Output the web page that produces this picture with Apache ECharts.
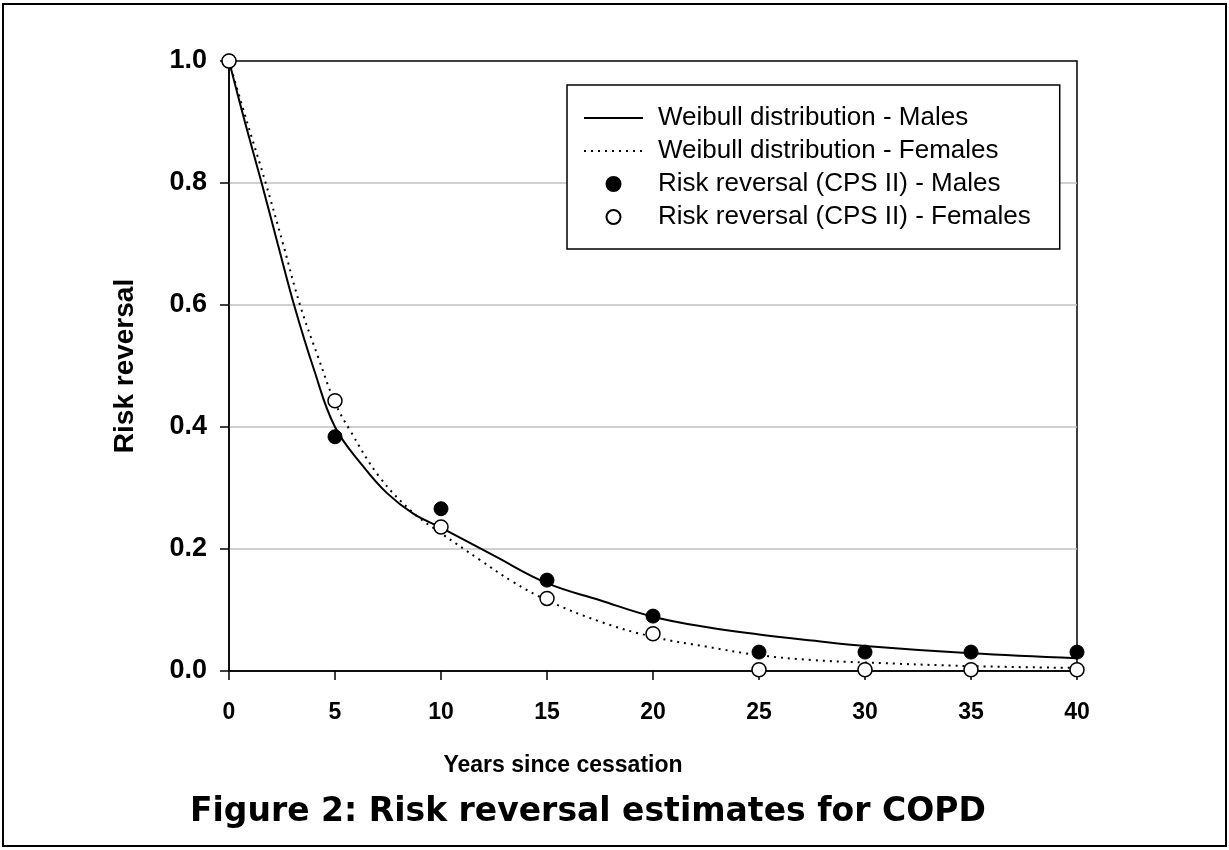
<!DOCTYPE html>
<html>
<head>
<meta charset="utf-8">
<script src="https://cdn.jsdelivr.net/npm/echarts@6/dist/echarts.min.js"></script>
<style>
  html, body { margin: 0; padding: 0; background: #fff; }
  #chart { width: 1229px; height: 850px; }
</style>
</head>
<body>
<div id="chart"></div>
<script>
// ---- Data ----
const seriesNames = [
  'Weibull distribution - Males',
  'Weibull distribution - Females',
  'Risk reversal (CPS II) - Males',
  'Risk reversal (CPS II) - Females'
];
// Fitted Weibull curves: [years, risk reversal]
const weibullMales = [
  [0, 1.0], [0.75, 0.90], [1.54, 0.80], [2.3, 0.70], [3.07, 0.60], [4.0, 0.495],
  [5, 0.40], [6.34, 0.335], [7.44, 0.292], [8.69, 0.258], [10, 0.235],
  [12.5, 0.189], [15, 0.144], [17.5, 0.116], [20, 0.089],
  [22.5, 0.072], [25, 0.060], [27.5, 0.050], [30, 0.041], [35, 0.029], [40, 0.021]
];
const weibullFemales = [
  [0, 1.0], [0.85, 0.90], [1.73, 0.80], [2.55, 0.70], [3.35, 0.60], [4.2, 0.515],
  [5, 0.44], [5.7, 0.395], [7.1, 0.318], [8.7, 0.259], [10, 0.226],
  [11.84, 0.182], [13.4, 0.146], [15, 0.116], [17.5, 0.081], [20, 0.056],
  [22.5, 0.040], [25, 0.026], [27.5, 0.018], [30, 0.014], [35, 0.008], [40, 0.005]
];
// Observed risk reversal (CPS II)
const years = [0, 5, 10, 15, 20, 25, 30, 35, 40];
const cpsMales   = [1.0, 0.384, 0.266, 0.149, 0.090, 0.031, 0.031, 0.031, 0.031];
const cpsFemales = [1.0, 0.443, 0.236, 0.119, 0.061, 0.002, 0.002, 0.002, 0.002];

const xTitle = 'Years since cessation';
const yTitle = 'Risk reversal';
const figTitle = 'Figure 2: Risk reversal estimates for COPD';

const pairs = (xs, ys) => xs.map((x, i) => [x, ys[i]]);

const chart = echarts.init(document.getElementById('chart'), null, { renderer: 'canvas' });

const hiddenSymbol = { color: 'transparent', borderColor: 'transparent', borderWidth: 0, opacity: 0 };

const option = {
  backgroundColor: '#fff',
  animation: false,
  title: {
    text: figTitle,
    left: 190,
    top: 796,
    padding: 0,
    textStyle: { fontFamily: 'DejaVu Sans', fontWeight: 'bold', fontSize: 33, color: '#000' }
  },
  graphic: [
    {
      type: 'rect', silent: true, z: -1,
      shape: { x: 3, y: 4, width: 1223, height: 842 },
      style: { fill: null, stroke: '#000', lineWidth: 2 }
    }
  ],
  grid: {
    left: 229, right: 152, top: 61, bottom: 179,
    show: true, borderColor: '#000', borderWidth: 1.5, backgroundColor: 'transparent'
  },
  legend: {
    orient: 'vertical',
    left: 567, top: 85,
    padding: [20, 29, 19, 16],
    itemGap: 7,
    itemWidth: 59, itemHeight: 14,
    borderColor: '#000', borderWidth: 1.5, backgroundColor: '#fff',
    data: [
      { name: seriesNames[0], itemStyle: hiddenSymbol },
      { name: seriesNames[1], itemStyle: hiddenSymbol },
      { name: seriesNames[2] },
      { name: seriesNames[3] }
    ],
    textStyle: { fontFamily: 'Liberation Sans', fontSize: 26, color: '#000', padding: [0, 0, 0, 10] }
  },
  xAxis: {
    type: 'value', min: 0, max: 40, interval: 5,
    name: xTitle, nameLocation: 'middle', nameGap: 83,
    nameTextStyle: {
      fontFamily: 'Liberation Sans', fontWeight: 'bold', fontSize: 23, color: '#000',
      padding: [0, 180, 0, 0]
    },
    axisLine: { show: true, lineStyle: { color: '#000', width: 1.5 } },
    axisTick: { show: true, inside: false, length: 9, lineStyle: { color: '#000', width: 1.5 } },
    axisLabel: {
      margin: 30, color: '#000',
      fontFamily: 'Liberation Sans', fontWeight: 'bold', fontSize: 23
    },
    splitLine: { show: false }
  },
  yAxis: {
    type: 'value', min: 0, max: 1, interval: 0.2,
    name: yTitle, nameLocation: 'middle', nameGap: 90, nameRotate: 90,
    nameTextStyle: { fontFamily: 'Liberation Sans', fontWeight: 'bold', fontSize: 28, color: '#000' },
    axisLine: { show: true, lineStyle: { color: '#000', width: 1.5 } },
    axisTick: { show: true, inside: false, length: 9, lineStyle: { color: '#000', width: 1.5 } },
    axisLabel: {
      margin: 22, color: '#000',
      fontFamily: 'Liberation Sans', fontWeight: 'bold', fontSize: 27,
      formatter: v => v.toFixed(1)
    },
    splitLine: { show: true, showMinLine: false, showMaxLine: false, lineStyle: { color: '#c0c0c0', width: 1.5 } }
  },
  series: [
    {
      name: seriesNames[0], type: 'line', data: weibullMales,
      symbol: 'none', smooth: 0.4, z: 2,
      lineStyle: { color: '#000', width: 2, type: 'solid' },
      itemStyle: { color: '#000' }
    },
    {
      name: seriesNames[1], type: 'line', data: weibullFemales,
      symbol: 'none', smooth: 0.4, z: 2,
      lineStyle: { color: '#000', width: 2, type: [2, 5] },
      itemStyle: { color: '#000' }
    },
    {
      name: seriesNames[2], type: 'scatter', data: pairs(years, cpsMales),
      symbol: 'circle', symbolSize: 14, z: 3,
      itemStyle: { color: '#000', borderColor: '#000', borderWidth: 1, opacity: 1 }
    },
    {
      name: seriesNames[3], type: 'scatter', data: pairs(years, cpsFemales),
      symbol: 'circle', symbolSize: 14, z: 4,
      itemStyle: { color: '#fff', borderColor: '#000', borderWidth: 1.5, opacity: 1 }
    }
  ]
};

chart.setOption(option);
</script>
</body>
</html>
